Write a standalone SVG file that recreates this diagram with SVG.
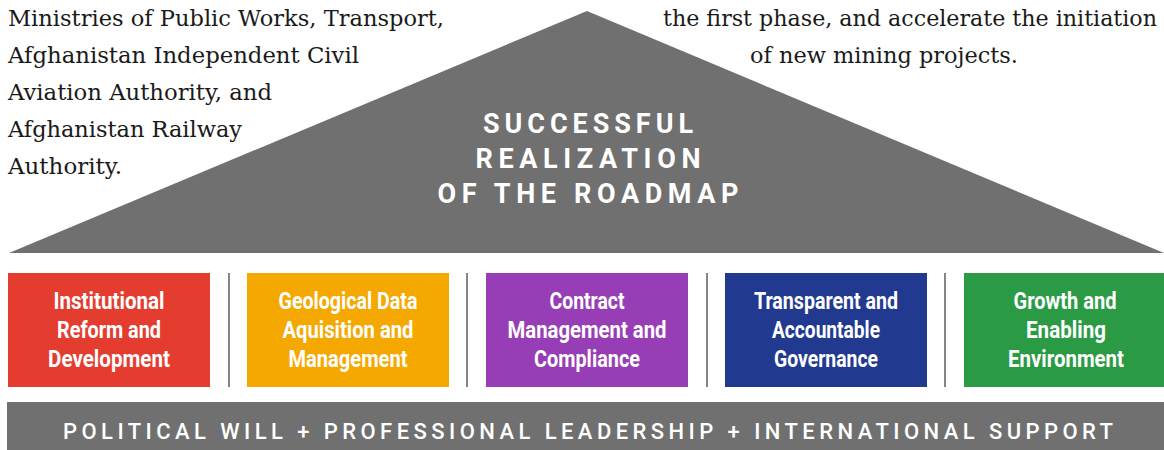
<svg xmlns="http://www.w3.org/2000/svg" width="1164" height="450" viewBox="0 0 1164 450">
<style>
.serif{font-family:"DejaVu Serif","Liberation Serif",serif;font-size:22px;fill:#1a1a1a}
.title{font-family:Roboto,"Liberation Sans",sans-serif;font-weight:700;font-size:27px;fill:#fff;text-anchor:middle}
.box{font-family:Roboto,"Liberation Sans",sans-serif;font-weight:700;font-size:23px;fill:#fff;text-anchor:middle}
.bar{font-family:Roboto,"Liberation Sans",sans-serif;font-weight:500;font-size:22px;fill:#fff;text-anchor:middle}
.div{stroke:#666;stroke-width:1.6}
</style>
<rect width="1164" height="450" fill="#fff"/>
<g id="roof">
<polygon points="587,11 9,253 1164,253" fill="#707070"/>
<text class="title" x="588" y="133" textLength="210" lengthAdjust="spacing">SUCCESSFUL</text>
<text class="title" x="588" y="168" textLength="225" lengthAdjust="spacing">REALIZATION</text>
<text class="title" x="588" y="203" textLength="301" lengthAdjust="spacing">OF THE ROADMAP</text>
</g>
<g id="left-text">
<text class="serif" x="8" y="26" textLength="436" lengthAdjust="spacingAndGlyphs">Ministries of Public Works, Transport,</text>
<text class="serif" x="8" y="63" textLength="351" lengthAdjust="spacingAndGlyphs">Afghanistan Independent Civil</text>
<text class="serif" x="8" y="100" textLength="264" lengthAdjust="spacingAndGlyphs">Aviation Authority, and</text>
<text class="serif" x="8" y="137" textLength="234" lengthAdjust="spacingAndGlyphs">Afghanistan Railway</text>
<text class="serif" x="8" y="174" textLength="114" lengthAdjust="spacingAndGlyphs">Authority.</text>
</g>
<g id="right-text">
<text class="serif" x="663" y="26" textLength="494" lengthAdjust="spacingAndGlyphs">the first phase, and accelerate the initiation</text>
<text class="serif" x="750" y="63" textLength="268" lengthAdjust="spacingAndGlyphs">of new mining projects.</text>
</g>
<g id="dividers">
<line class="div" x1="229" y1="273" x2="229" y2="387"/>
<line class="div" x1="467" y1="273" x2="467" y2="387"/>
<line class="div" x1="707" y1="273" x2="707" y2="387"/>
<line class="div" x1="945" y1="273" x2="945" y2="387"/>
</g>
<g id="pillar1">
<rect x="8" y="273" width="202" height="114" fill="#E43D30"/>
<text class="box" x="109" y="309" textLength="111" lengthAdjust="spacingAndGlyphs">Institutional</text>
<text class="box" x="109" y="338" textLength="104" lengthAdjust="spacingAndGlyphs">Reform and</text>
<text class="box" x="109" y="367" textLength="122" lengthAdjust="spacingAndGlyphs">Development</text>
</g>
<g id="pillar2">
<rect x="247" y="273" width="202" height="114" fill="#F5A800"/>
<text class="box" x="348" y="309" textLength="139" lengthAdjust="spacingAndGlyphs">Geological Data</text>
<text class="box" x="348" y="338" textLength="131" lengthAdjust="spacingAndGlyphs">Aquisition and</text>
<text class="box" x="348" y="367" textLength="119" lengthAdjust="spacingAndGlyphs">Management</text>
</g>
<g id="pillar3">
<rect x="486" y="273" width="202" height="114" fill="#973EB6"/>
<text class="box" x="587" y="309" textLength="75" lengthAdjust="spacingAndGlyphs">Contract</text>
<text class="box" x="587" y="338" textLength="159" lengthAdjust="spacingAndGlyphs">Management and</text>
<text class="box" x="587" y="367" textLength="106" lengthAdjust="spacingAndGlyphs">Compliance</text>
</g>
<g id="pillar4">
<rect x="725" y="273" width="202" height="114" fill="#213A8F"/>
<text class="box" x="826" y="309" textLength="144" lengthAdjust="spacingAndGlyphs">Transparent and</text>
<text class="box" x="826" y="338" textLength="108" lengthAdjust="spacingAndGlyphs">Accountable</text>
<text class="box" x="826" y="367" textLength="104" lengthAdjust="spacingAndGlyphs">Governance</text>
</g>
<g id="pillar5">
<rect x="964" y="273" width="200" height="114" fill="#2A9B44"/>
<text class="box" x="1065" y="309" textLength="103" lengthAdjust="spacingAndGlyphs">Growth and</text>
<text class="box" x="1066" y="338" textLength="80" lengthAdjust="spacingAndGlyphs">Enabling</text>
<text class="box" x="1066" y="367" textLength="116" lengthAdjust="spacingAndGlyphs">Environment</text>
</g>
<g id="foundation">
<rect x="7" y="402" width="1157" height="48" fill="#707070"/>
<text class="bar" x="588" y="439" textLength="1050" lengthAdjust="spacing">POLITICAL WILL + PROFESSIONAL LEADERSHIP + INTERNATIONAL SUPPORT</text>
</g>
</svg>
